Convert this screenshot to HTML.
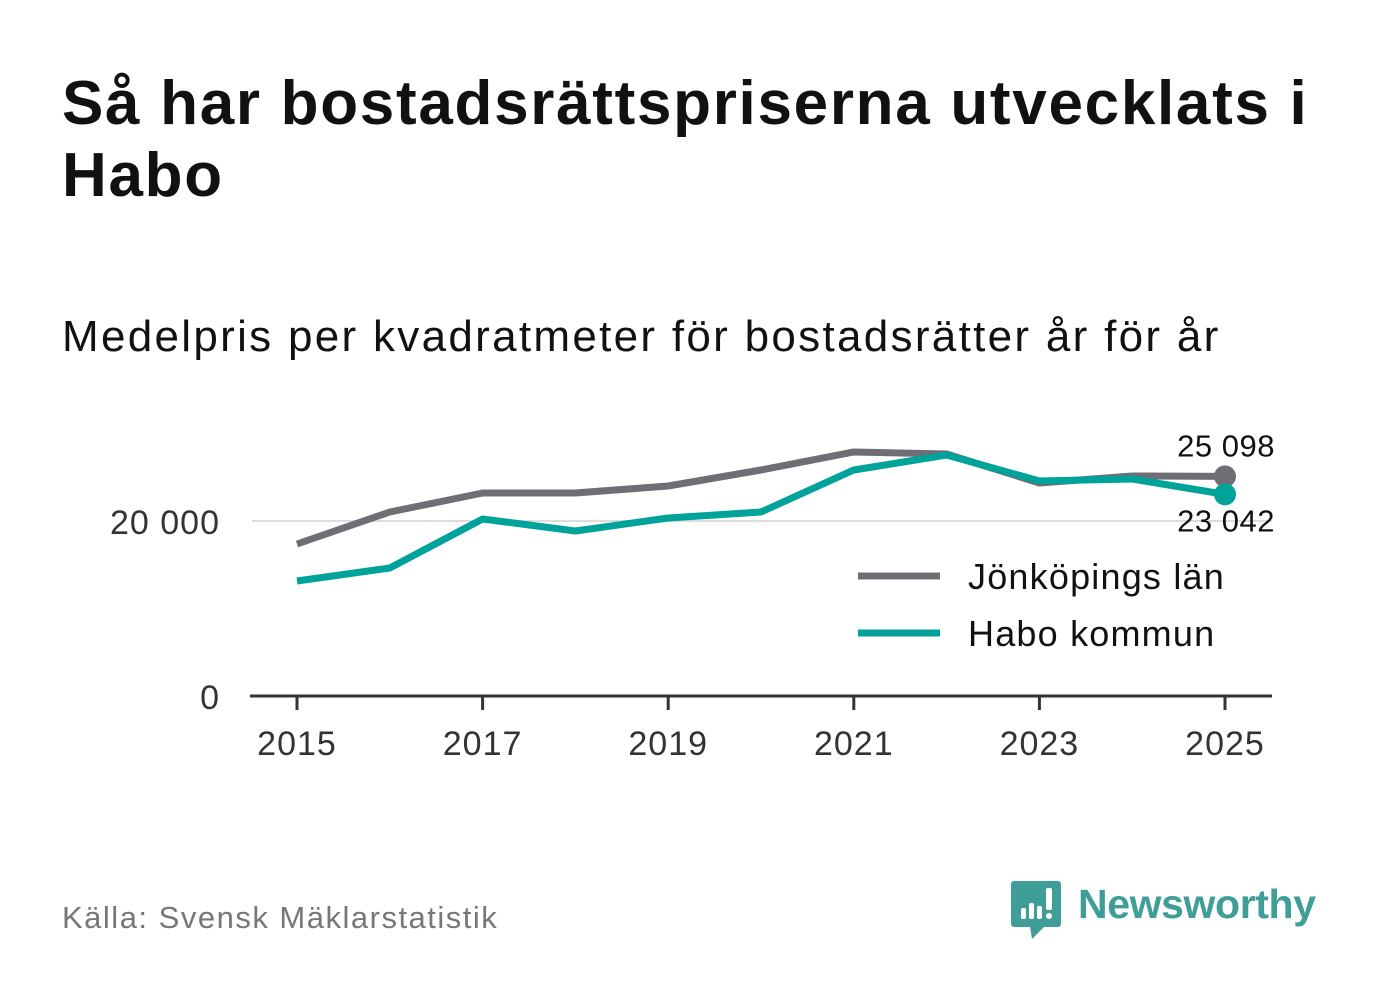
<!DOCTYPE html>
<html><head><meta charset="utf-8"><style>
body{margin:0;width:1382px;height:999px;background:#fff;font-family:"Liberation Sans","DejaVu Sans",sans-serif;overflow:hidden;position:relative}
h1{position:absolute;left:62px;top:68px;margin:0;font-size:62px;line-height:72px;font-weight:bold;color:#111;width:1300px;letter-spacing:1.7px}
.sub{position:absolute;left:62px;top:312px;font-size:44px;color:#111;letter-spacing:2.3px}
.src{position:absolute;left:62px;top:900px;font-size:31px;color:#777;letter-spacing:1.5px}
</style></head><body>
<h1>Så har bostadsrättspriserna utvecklats i Habo</h1>
<div class="sub">Medelpris per kvadratmeter för bostadsrätter år för år</div>
<svg id="chart" width="1382" height="999" style="position:absolute;left:0;top:0" xmlns="http://www.w3.org/2000/svg"></svg>
<div class="src">Källa: Svensk Mäklarstatistik</div>
<svg style="position:absolute;left:1010px;top:878px" width="320" height="64">
<path d="M4 3h44a3 3 0 0 1 3 3v40a3 3 0 0 1-3 3H34l-12 12-2-12H4a3 3 0 0 1-3-3V6a3 3 0 0 1 3-3z" fill="#3f9e97"/>
<rect x="11" y="30" width="5" height="11" rx="2" fill="#fff"/><rect x="19" y="25" width="5" height="16" rx="2" fill="#fff"/><rect x="27" y="28" width="5" height="13" rx="2" fill="#fff"/><rect x="36" y="10" width="6" height="22" rx="2" fill="#fff"/><circle cx="39" cy="38" r="3" fill="#fff"/>
<text x="68" y="40" font-size="41" font-weight="bold" fill="#3f9e97" font-family="Liberation Sans, sans-serif" textLength="238">Newsworthy</text>
</svg>
<script>
const years=[2015,2016,2017,2018,2019,2020,2021,2022,2023,2024,2025];
const lanValues=[17371,21029,23200,23200,24000,25829,27886,27657,24343,25143,25098];
const haboValues=[13143,14629,20229,18857,20343,21029,25829,27543,24571,24800,23042];
const yTicks=[0,20000];
const yTickLabels=["0","20 000"];
const xTicks=[2015,2017,2019,2021,2023,2025];
const seriesNames=["Jönköpings län","Habo kommun"];
const svg=document.getElementById('chart');
const NS="http://www.w3.org/2000/svg";
const x=v=>297+(v-2015)*92.8;
const y=v=>696-v*0.00875;
function el(t,a,txt){const e=document.createElementNS(NS,t);for(const k in a)e.setAttribute(k,a[k]);if(txt!=null)e.textContent=txt;svg.appendChild(e);return e;}
yTicks.forEach((t,i)=>{
 if(t>0){const g=el('line',{x1:252,x2:1272,y1:y(t),y2:y(t),stroke:'#ddd','stroke-width':2});
 
 }
 const l=el('text',{x:220,y:y(t)+13,'text-anchor':'end','font-size':34,fill:'#333','letter-spacing':1},yTickLabels[i]);
 
 
});
const ax=el('line',{x1:250,x2:1272,y1:696,y2:696,stroke:'#333','stroke-width':3});


xTicks.forEach(t=>{
 const tk=el('line',{x1:x(t),x2:x(t),y1:696,y2:710,stroke:'#333','stroke-width':3});
 
 
 const l=el('text',{x:x(t),y:755,'text-anchor':'middle','font-size':34,fill:'#333','letter-spacing':1},t);
 
 
});
function line(vals,color,name){
 const p=el('polyline',{points:vals.map((v,i)=>x(years[i])+','+y(v)).join(' '),fill:'none',stroke:color,'stroke-width':7,'stroke-linejoin':'round'});
 
 
 const c=el('circle',{cx:x(years[years.length-1]),cy:y(vals[vals.length-1]),r:11,fill:color});
 
 
}
line(lanValues,'#6f6e75','lan-line');
line(haboValues,'#00a39a','habo-line');
const fmt=v=>String(v).replace(/\B(?=(\d{3})+(?!\d))/g,' ');
const l1=el('text',{x:1275,y:y(lanValues[10])-20,'text-anchor':'end','font-size':31,fill:'#111','letter-spacing':0.5},fmt(lanValues[10]));


const l2=el('text',{x:1275,y:y(haboValues[10])+37,'text-anchor':'end','font-size':31,fill:'#111','letter-spacing':0.5},fmt(haboValues[10]));


[['#6f6e75',576],['#00a39a',633]].forEach((c,i)=>{
 const s=el('line',{x1:858,x2:940,y1:c[1],y2:c[1],stroke:c[0],'stroke-width':7});
 
 
 const t=el('text',{x:968,y:c[1]+13,'font-size':36,fill:'#111','letter-spacing':1.2},seriesNames[i]);
 
 
});
</script>
</body></html>
